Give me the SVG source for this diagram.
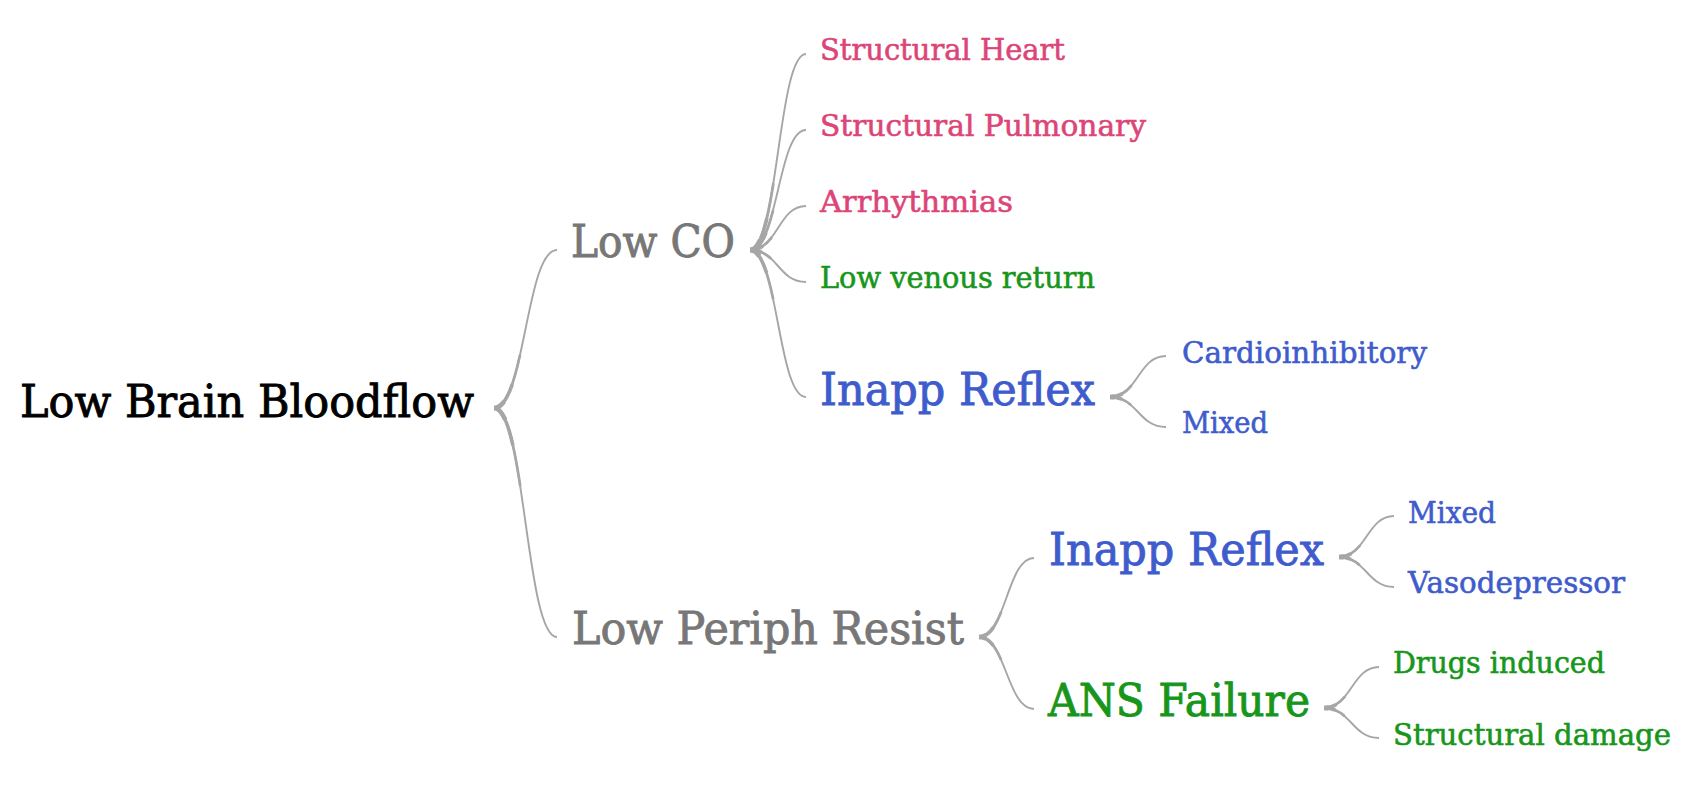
<svg xmlns="http://www.w3.org/2000/svg" xmlns:xlink="http://www.w3.org/1999/xlink" width="1697" height="795" viewBox="0 0 1697 795">
<style>
text { font-family: "DejaVu Serif", "Liberation Serif", serif; }
.big { font-size: 44px; stroke-width: 0.9px; }
.leaf { font-size: 30px; stroke-width: 0.6px; }
.black { fill: #000000; stroke: #000000; }
.gray { fill: #777777; stroke: #777777; }
.pink { fill: #dc4577; stroke: #dc4577; }
.blue { fill: #3f5ccc; stroke: #3f5ccc; }
.green { fill: #17961b; stroke: #17961b; }
.l1 { fill: none; stroke: #a6a6a6; stroke-width: 1.9; }
.l2 { fill: none; stroke: #a6a6a6; stroke-width: 2.7; stroke-dasharray: 35 200; }
.l3 { fill: none; stroke: #a6a6a6; stroke-width: 3.6; stroke-dasharray: 18 200; }
.l4 { fill: none; stroke: #a6a6a6; stroke-width: 4.6; stroke-dasharray: 7 200; }
</style>
<defs>
<path id="r1" pathLength="100" d="M494,408 C525,408 526,250 557,250"/>
<path id="r2" pathLength="100" d="M494,408 C525,408 526,637 557,637"/>
<path id="a1" pathLength="100" d="M750,250 C778,250 778,54 806,54"/>
<path id="a2" pathLength="100" d="M750,250 C778,250 778,130 806,130"/>
<path id="a3" pathLength="100" d="M750,250 C778,250 778,206 806,206"/>
<path id="a4" pathLength="100" d="M750,250 C778,250 778,282 806,282"/>
<path id="a5" pathLength="100" d="M750,250 C778,250 778,397 806,397"/>
<path id="b1" pathLength="100" d="M1110,397 C1138,397 1138,356 1166,356"/>
<path id="b2" pathLength="100" d="M1110,397 C1138,397 1138,427 1166,427"/>
<path id="c1" pathLength="100" d="M979,637 C1006,637 1007,558 1034,558"/>
<path id="c2" pathLength="100" d="M979,637 C1006,637 1007,709 1034,709"/>
<path id="d1" pathLength="100" d="M1339,557 C1366,557 1367,516 1394,516"/>
<path id="d2" pathLength="100" d="M1339,557 C1366,557 1367,587 1394,587"/>
<path id="e1" pathLength="100" d="M1324,708 C1351,708 1352,667 1379,667"/>
<path id="e2" pathLength="100" d="M1324,708 C1351,708 1352,738 1379,738"/>
</defs>
<rect width="1697" height="795" fill="#ffffff"/>
<g id="connectors">
<use href="#r1" class="l1"/><use href="#r1" class="l2"/><use href="#r1" class="l3"/><use href="#r1" class="l4"/>
<use href="#r2" class="l1"/><use href="#r2" class="l2"/><use href="#r2" class="l3"/><use href="#r2" class="l4"/>
<use href="#a1" class="l1"/><use href="#a1" class="l2"/><use href="#a1" class="l3"/><use href="#a1" class="l4"/>
<use href="#a2" class="l1"/><use href="#a2" class="l2"/><use href="#a2" class="l3"/><use href="#a2" class="l4"/>
<use href="#a3" class="l1"/><use href="#a3" class="l2"/><use href="#a3" class="l3"/><use href="#a3" class="l4"/>
<use href="#a4" class="l1"/><use href="#a4" class="l2"/><use href="#a4" class="l3"/><use href="#a4" class="l4"/>
<use href="#a5" class="l1"/><use href="#a5" class="l2"/><use href="#a5" class="l3"/><use href="#a5" class="l4"/>
<use href="#b1" class="l1"/><use href="#b1" class="l2"/><use href="#b1" class="l3"/><use href="#b1" class="l4"/>
<use href="#b2" class="l1"/><use href="#b2" class="l2"/><use href="#b2" class="l3"/><use href="#b2" class="l4"/>
<use href="#c1" class="l1"/><use href="#c1" class="l2"/><use href="#c1" class="l3"/><use href="#c1" class="l4"/>
<use href="#c2" class="l1"/><use href="#c2" class="l2"/><use href="#c2" class="l3"/><use href="#c2" class="l4"/>
<use href="#d1" class="l1"/><use href="#d1" class="l2"/><use href="#d1" class="l3"/><use href="#d1" class="l4"/>
<use href="#d2" class="l1"/><use href="#d2" class="l2"/><use href="#d2" class="l3"/><use href="#d2" class="l4"/>
<use href="#e1" class="l1"/><use href="#e1" class="l2"/><use href="#e1" class="l3"/><use href="#e1" class="l4"/>
<use href="#e2" class="l1"/><use href="#e2" class="l2"/><use href="#e2" class="l3"/><use href="#e2" class="l4"/>
</g>
<g id="node-root"><text class="big black" x="20" y="417" textLength="454" lengthAdjust="spacingAndGlyphs">Low Brain Bloodflow</text></g>
<g id="node-lowco"><text class="big gray" x="571" y="257" textLength="164" lengthAdjust="spacingAndGlyphs">Low CO</text></g>
<g id="node-lowperiph"><text class="big gray" x="572" y="644" textLength="392" lengthAdjust="spacingAndGlyphs">Low Periph Resist</text></g>
<g id="node-structheart"><text class="leaf pink" x="820" y="60" textLength="245" lengthAdjust="spacingAndGlyphs">Structural Heart</text></g>
<g id="node-structpulm"><text class="leaf pink" x="820" y="136" textLength="326" lengthAdjust="spacingAndGlyphs">Structural Pulmonary</text></g>
<g id="node-arrhythmias"><text class="leaf pink" x="820" y="212" textLength="193" lengthAdjust="spacingAndGlyphs">Arrhythmias</text></g>
<g id="node-lowvenous"><text class="leaf green" x="820" y="288" textLength="275" lengthAdjust="spacingAndGlyphs">Low venous return</text></g>
<g id="node-inapp1"><text class="big blue" x="820" y="405" textLength="275" lengthAdjust="spacingAndGlyphs">Inapp Reflex</text></g>
<g id="node-cardio"><text class="leaf blue" x="1182" y="363" textLength="245" lengthAdjust="spacingAndGlyphs">Cardioinhibitory</text></g>
<g id="node-mixed1"><text class="leaf blue" x="1182" y="433" textLength="86" lengthAdjust="spacingAndGlyphs">Mixed</text></g>
<g id="node-inapp2"><text class="big blue" x="1049" y="565" textLength="275" lengthAdjust="spacingAndGlyphs">Inapp Reflex</text></g>
<g id="node-mixed2"><text class="leaf blue" x="1408" y="523" textLength="88" lengthAdjust="spacingAndGlyphs">Mixed</text></g>
<g id="node-vaso"><text class="leaf blue" x="1408" y="593" textLength="217" lengthAdjust="spacingAndGlyphs">Vasodepressor</text></g>
<g id="node-ans"><text class="big green" x="1048" y="716" textLength="262" lengthAdjust="spacingAndGlyphs">ANS Failure</text></g>
<g id="node-drugs"><text class="leaf green" x="1393" y="673" textLength="212" lengthAdjust="spacingAndGlyphs">Drugs induced</text></g>
<g id="node-structdamage"><text class="leaf green" x="1393" y="745" textLength="278" lengthAdjust="spacingAndGlyphs">Structural damage</text></g>
</svg>
